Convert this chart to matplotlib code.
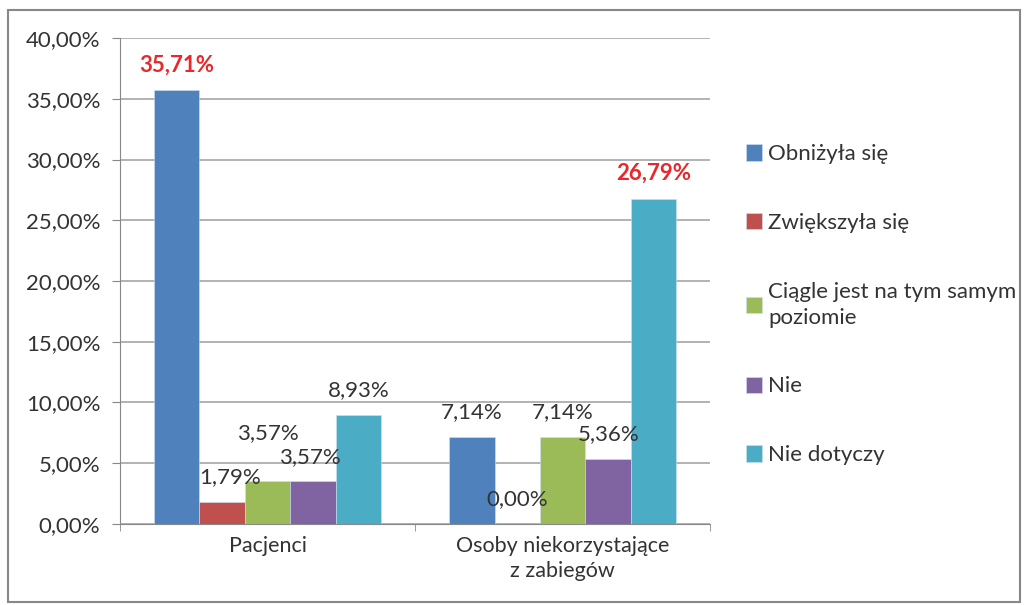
import numpy as np
import matplotlib.pyplot as plt
from matplotlib.patches import Rectangle

plt.rcParams['font.family'] = ['Lato', 'DejaVu Sans']

categories = ['Pacjenci', 'Osoby niekorzystające\nz zabiegów']
series = ['Obniżyła się', 'Zwiększyła się', 'Ciągle jest na tym samym\npoziomie', 'Nie', 'Nie dotyczy']
values = [
    [35.71, 7.14],   # Obniżyła się
    [1.79, 0.00],    # Zwiększyła się
    [3.57, 7.14],    # Ciągle jest na tym samym poziomie
    [3.57, 5.36],    # Nie
    [8.93, 26.79],   # Nie dotyczy
]
colors = ['#4F81BD', '#C0504D', '#9BBB59', '#8064A2', '#4BACC6']
highlight = [(0, 0), (4, 1)]  # labels drawn bold red

# label offsets (points) for a few labels that Excel pushed around
label_shift = {(2, 0): (0, 34), (1, 0): (6, 18), (3, 0): (-2, 17)}

fig = plt.figure(figsize=(10.25, 6.05), dpi=100)
ax = fig.add_axes([0.117, 0.134, 0.576, 0.803])

x = np.arange(len(categories))
w = 0.154
for i, (name, vals) in enumerate(zip(series, values)):
    pos = x + (i - 2) * w
    ax.bar(pos, vals, w, color=colors[i], label=name, zorder=3,
           edgecolor='#d0e0f0', linewidth=0.4)
    for j, v in enumerate(vals):
        txt = f'{v:.2f}%'.replace('.', ',')
        dx, dy = label_shift.get((i, j), (0, 18))
        if (i, j) in highlight:
            ax.annotate(txt, (pos[j], v), xytext=(dx, dy), textcoords='offset points',
                        ha='center', va='center', fontsize=16, color='#E8282B',
                        fontweight='bold', zorder=5)
        else:
            ax.annotate(txt, (pos[j], v), xytext=(dx, dy), textcoords='offset points',
                        ha='center', va='center', fontsize=16, color='#333333', zorder=5)

ax.set_ylim(0, 40)
ax.set_xlim(-0.5, 1.5)
ax.set_yticks(np.arange(0, 41, 5))
ax.set_yticklabels([f'{t:.2f}%'.replace('.', ',') for t in np.arange(0, 41, 5)])
ax.set_xticks(x)
ax.set_xticklabels(categories, linespacing=1.3)
ax.set_xticks([-0.5, 0.5, 1.5], minor=True)
ax.tick_params(axis='x', which='major', length=0, pad=9, labelsize=15.5, labelcolor='#333333')
ax.tick_params(axis='x', which='minor', length=5, color='#888888')
ax.tick_params(axis='y', length=6, color='#888888', labelsize=16, labelcolor='#333333', pad=8)
ax.grid(axis='y', color='#a6a6a6', linewidth=1.2, zorder=0)
for s in ['top', 'right']:
    ax.spines[s].set_visible(False)
for s in ['left', 'bottom']:
    ax.spines[s].set_color('#888888')

leg = ax.legend(loc='upper left', bbox_to_anchor=(1.045, 0.80), frameon=False,
                fontsize=16, labelspacing=2.2, handlelength=0.75, handleheight=0.75,
                handletextpad=0.25, borderaxespad=0)
for t in leg.get_texts():
    t.set_color('#333333')
    t.set_linespacing(1.35)

fig.patches.append(Rectangle((0.008, 0.005), 0.987, 0.978, transform=fig.transFigure,
                             fill=False, edgecolor='#888888', linewidth=1.5))

fig.savefig('out.png', dpi=100)
